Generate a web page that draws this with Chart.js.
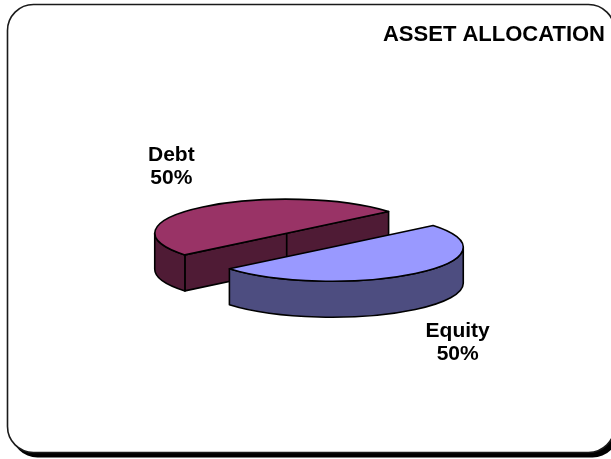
<!DOCTYPE html>
<html>
<head>
<meta charset="utf-8">
<title>Asset Allocation</title>
<script src="https://cdn.jsdelivr.net/npm/chart.js@4.4.1/dist/chart.umd.min.js"></script>
<style>
  html, body { margin: 0; padding: 0; background: #fff; }
  canvas { display: block; }
</style>
</head>
<body>
<canvas id="chart" width="611" height="459"></canvas>
<script>
// Portfolio split
const categories = ['Debt', 'Equity'];
const shares = [50, 50];

// Slice colours: top faces and darker side walls
const topColors = ['#993366', '#9999FF'];
const sideColors = ['#4F1B35', '#4D4D80'];

const FONT = "'Liberation Sans', Arial, Helvetica, sans-serif";

// Rounded card with a hard drop shadow behind the whole chart
const cardFrame = {
  id: 'cardFrame',
  beforeDraw(chart) {
    const ctx = chart.ctx;
    const x = 7.5, y = 4.5, w = 607, h = 448, r = 26;
    ctx.save();
    ctx.fillStyle = '#000';
    ctx.beginPath();
    ctx.roundRect(x + 4, y + 5, w, h, r);
    ctx.fill();
    ctx.fillStyle = '#fff';
    ctx.strokeStyle = '#1a1a1a';
    ctx.lineWidth = 1.6;
    ctx.beginPath();
    ctx.roundRect(x, y, w, h, r);
    ctx.fill();
    ctx.stroke();
    ctx.restore();
  }
};

// Draws the pie as a tilted, exploded 3D disc from the arcs Chart.js lays out
const pie3d = {
  id: 'pie3d',
  beforeDatasetsDraw(chart, args, opts) {
    const ctx = chart.ctx;
    const meta = chart.getDatasetMeta(0);
    const tilt = opts.tilt, depth = opts.depth, explode = opts.explode;
    const data = chart.data.datasets[0].data;
    const total = data.reduce((a, b) => a + b, 0);

    const slices = meta.data.map((arc, i) => {
      const p = arc.getProps(['x', 'y', 'startAngle', 'endAngle', 'outerRadius'], true);
      const mid = (p.startAngle + p.endAngle) / 2;
      return {
        i,
        cx: p.x + Math.cos(mid) * explode,
        cy: p.y + Math.sin(mid) * explode * tilt,
        s: p.startAngle,
        e: p.endAngle,
        r: p.outerRadius,
        ry: p.outerRadius * tilt,
        mid
      };
    });

    // back slices first
    const order = slices.slice().sort((a, b) => a.cy - b.cy);

    ctx.save();
    ctx.lineWidth = 1.6;
    ctx.lineJoin = 'round';
    ctx.strokeStyle = '#000';

    for (const sl of order) {
      const {cx, cy, r, ry, s, e, i} = sl;
      const pt = (a, dy) => [cx + r * Math.cos(a), cy + ry * Math.sin(a) + dy];

      // cut faces that turn toward the viewer
      const walls = [[s, s - Math.PI / 2], [e, e + Math.PI / 2]];
      for (const [a, n] of walls) {
        if (Math.sin(n) <= 0.0001) continue;
        const [px, py] = pt(a, 0);
        ctx.beginPath();
        ctx.moveTo(cx, cy);
        ctx.lineTo(px, py);
        ctx.lineTo(px, py + depth);
        ctx.lineTo(cx, cy + depth);
        ctx.closePath();
        ctx.fillStyle = sideColors[i];
        ctx.fill();
        ctx.stroke();
      }

      // curved rim where it faces front
      for (let k = -1; k <= 2; k++) {
        const a1 = Math.max(s, 2 * Math.PI * k);
        const a2 = Math.min(e, 2 * Math.PI * k + Math.PI);
        if (a2 - a1 <= 0.0001) continue;
        ctx.beginPath();
        ctx.ellipse(cx, cy, r, ry, 0, a1, a2, false);
        const [bx, by] = pt(a2, depth);
        ctx.lineTo(bx, by);
        ctx.ellipse(cx, cy + depth, r, ry, 0, a2, a1, true);
        ctx.closePath();
        ctx.fillStyle = sideColors[i];
        ctx.fill();
        ctx.stroke();
      }

      // top face
      ctx.beginPath();
      ctx.moveTo(cx, cy);
      ctx.ellipse(cx, cy, r, ry, 0, s, e, false);
      ctx.closePath();
      ctx.fillStyle = topColors[i];
      ctx.fill();
      ctx.stroke();
    }

    // category and percentage labels outside each slice
    ctx.fillStyle = '#000';
    ctx.font = 'bold 21px ' + FONT;
    ctx.textAlign = 'center';
    ctx.textBaseline = 'middle';
    for (const sl of slices) {
      const sn = Math.sin(sl.mid);
      const lx = sl.cx + sl.r * opts.labelRX * Math.cos(sl.mid) + opts.labelDX;
      const ly = sl.cy + sl.r * opts.labelRY * sn + (sn > 0 ? depth : 0) + opts.labelDY;
      const pct = Math.round(data[sl.i] / total * 100) + '%';
      const lines = [chart.data.labels[sl.i], pct];
      const lh = opts.lineHeight;
      lines.forEach((t, j) => {
        ctx.fillText(t, lx, ly + (j - (lines.length - 1) / 2) * lh);
      });
    }
    ctx.restore();
    return false;
  }
};

new Chart(document.getElementById('chart'), {
  type: 'pie',
  data: {
    labels: categories,
    datasets: [{
      data: shares,
      backgroundColor: topColors,
      borderWidth: 0
    }]
  },
  options: {
    responsive: false,
    devicePixelRatio: 1,
    animation: false,
    events: [],
    rotation: 230.5,
    radius: 132,
    layout: { padding: { left: 13, right: 6, top: 0, bottom: 27 } },
    plugins: {
      legend: { display: false },
      tooltip: { enabled: false },
      title: {
        display: true,
        text: 'ASSET ALLOCATION',
        align: 'end',
        color: '#000',
        font: { family: FONT, size: 22, weight: 'bold' },
        padding: { top: 22, bottom: 0 }
      },
      pie3d: {
        tilt: 0.258, depth: 36, explode: 35,
        labelRX: 1.44, labelRY: 0.62, labelDX: 5.5, labelDY: -3.5, lineHeight: 23
      }
    }
  },
  plugins: [cardFrame, pie3d]
});
</script>
</body>
</html>
